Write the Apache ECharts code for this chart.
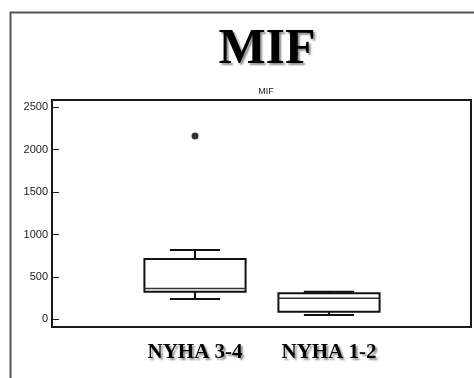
<!DOCTYPE html>
<html><head><meta charset="utf-8">
<script src="https://cdn.jsdelivr.net/npm/echarts@6/dist/echarts.min.js"></script>
<style>html,body{margin:0;padding:0;background:#fff}#c{width:474px;height:378px}</style>
</head><body><div id="c"></div>
<script>
const categories = ['NYHA 3-4', 'NYHA 1-2'];
// [lower whisker, Q1, median, Q3, upper whisker]
const boxValues = [
  [239, 325, 365, 711, 817],
  [51, 90, 248, 307, 325]
];
const outliers = [['NYHA 3-4', 2161]];
const yTicks = [0, 500, 1000, 1500, 2000, 2500];
const yMin = -90, yMax = 2585;

const chart = echarts.init(document.getElementById('c'));
const shadow = {textShadowColor: 'rgba(0,0,0,0.45)', textShadowBlur: 2, textShadowOffsetX: 2, textShadowOffsetY: 2};
const lineStyle = {stroke: '#111', lineWidth: 2, fill: 'none'};
function renderBox(params, api) {
  const i = api.value(0);
  const lo = api.coord([i, api.value(1)]);
  const q1 = api.coord([i, api.value(2)]);
  const med = api.coord([i, api.value(3)]);
  const q3 = api.coord([i, api.value(4)]);
  const hi = api.coord([i, api.value(5)]);
  const band = api.size([1, 0])[0];
  const bw = band * 0.755, cw = band * 0.375;
  const x = lo[0];
  return {type: 'group', children: [
    {type: 'line', shape: {x1: x, y1: hi[1], x2: x, y2: q3[1]}, style: lineStyle},
    {type: 'line', shape: {x1: x, y1: q1[1], x2: x, y2: lo[1]}, style: lineStyle},
    {type: 'line', shape: {x1: x - cw / 2, y1: hi[1], x2: x + cw / 2, y2: hi[1]}, style: lineStyle},
    {type: 'line', shape: {x1: x - cw / 2, y1: lo[1], x2: x + cw / 2, y2: lo[1]}, style: lineStyle},
    {type: 'rect', shape: {x: x - bw / 2, y: q3[1], width: bw, height: q1[1] - q3[1]},
     style: {fill: '#fff', stroke: '#111', lineWidth: 2}},
    {type: 'line', shape: {x1: x - bw / 2, y1: med[1], x2: x + bw / 2, y2: med[1]},
     style: {stroke: '#333', lineWidth: 1.5}}
  ]};
}
chart.setOption({
  animation: false,
  title: [
    {text: 'MIF', left: 262, top: 20, textAlign: 'center',
     textStyle: Object.assign({fontFamily: 'Liberation Serif', fontWeight: 'bold', fontSize: 50, color: '#000'}, shadow)},
    {text: 'MIF', left: 261, top: 82, textAlign: 'center',
     textStyle: {fontFamily: 'Liberation Sans', fontWeight: 'normal', fontSize: 9, color: '#222'}}
  ],
  graphic: [{type: 'rect', left: 8, top: 10, shape: {x: 0, y: 0, width: 520, height: 420},
    style: {fill: 'none', stroke: '#555', lineWidth: 2}, z: -1}],
  grid: [
    {left: 52, right: 3, top: 100, bottom: 51, show: true, borderColor: '#1a1a1a', borderWidth: 2},
    {left: 128, width: 268, top: 100, bottom: 51}
  ],
  xAxis: [
    {gridIndex: 0, type: 'value', show: false, min: 0, max: 1},
    {gridIndex: 1, type: 'category', data: categories,
     axisLine: {show: false}, axisTick: {show: false},
     axisLabel: Object.assign({margin: 15, fontFamily: 'Liberation Serif', fontWeight: 'bold', fontSize: 21, color: '#000'}, shadow)}
  ],
  yAxis: [
    {gridIndex: 0, type: 'value', min: yMin, max: yMax, splitLine: {show: false},
     axisLine: {show: true, lineStyle: {color: '#1a1a1a', width: 2}},
     axisTick: {show: true, inside: true, length: 7, customValues: yTicks, lineStyle: {color: '#222', width: 1}},
     axisLabel: {customValues: yTicks, margin: 4, fontFamily: 'Liberation Sans', fontSize: 11, color: '#222',
       formatter: v => String(v)}},
    {gridIndex: 1, type: 'value', min: yMin, max: yMax, show: false}
  ],
  series: [
    {type: 'custom', xAxisIndex: 1, yAxisIndex: 1, renderItem: renderBox,
     encode: {x: 0, y: [1, 2, 3, 4, 5]},
     data: boxValues.map((b, i) => [i].concat(b))},
    {type: 'scatter', xAxisIndex: 1, yAxisIndex: 1, data: outliers, symbolSize: 7,
     itemStyle: {color: '#000'}}
  ]
});
</script></body></html>
